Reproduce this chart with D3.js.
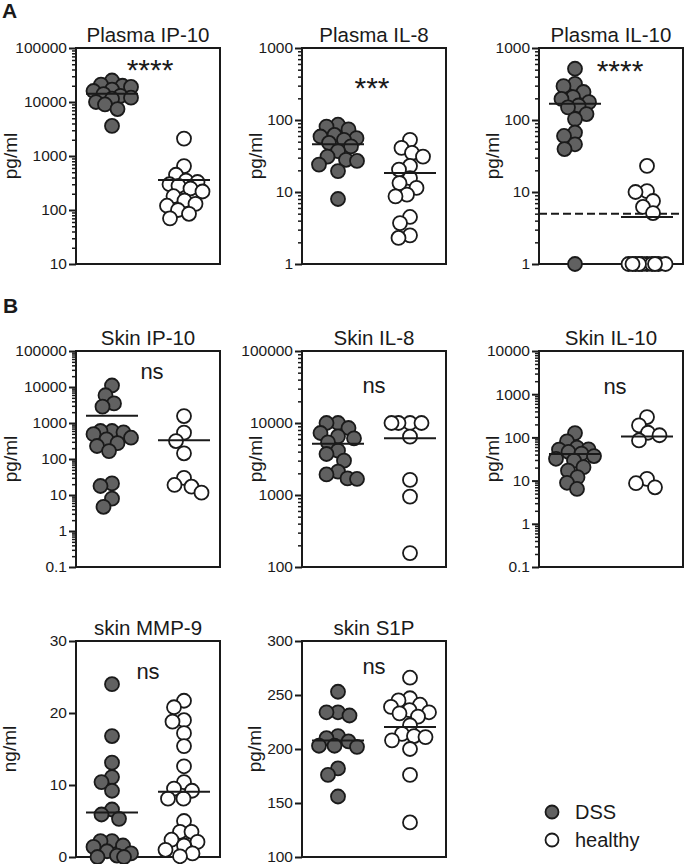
<!DOCTYPE html>
<html>
<head>
<meta charset="utf-8">
<script src="https://cdn.jsdelivr.net/npm/d3@7"></script>
<style>
  body { margin: 0; background: #fff; }
  text { font-family: "Liberation Sans", Arial, sans-serif; fill: #1a1a1a; }
</style>
</head>
<body>
<script>
// groups shown in every panel
const groups = ["DSS", "healthy"];

// values
const plasmaIP10DSS = [25000, 21000, 20000, 19000, 17000, 16000, 14000, 13000, 12000, 11500, 10000, 9000, 7400, 3600];
const plasmaIP10Healthy = [2100, 650, 450, 350, 330, 300, 280, 250, 220, 180, 150, 130, 120, 100, 85, 70];
const plasmaIL8DSS = [86, 81, 74, 62, 59, 56, 53, 48, 43, 37, 31, 28, 27, 24, 19.5, 8];
const plasmaIL8Healthy = [53, 41, 35, 31, 23, 20.5, 15.6, 13.3, 11.4, 9.2, 8.7, 4.5, 3.7, 2.5, 2.3];
const plasmaIL10DSS = [515, 317, 295, 245, 208, 196, 177, 159, 150, 121, 103, 67, 60, 46, 39.5, 1];
const plasmaIL10Healthy = [23, 10.3, 10, 7.5, 6.2, 5.1, 1, 1, 1, 1, 1, 1, 1, 1, 1, 1];
const plasmaIL10Cutoff = 5;
const skinIP10DSS = [11000, 5900, 3500, 2840, 600, 600, 550, 490, 390, 350, 275, 230, 166, 21, 17.8, 7.9, 4.7];
const skinIP10Healthy = [1560, 540, 315, 144, 30, 19, 17, 11.6];
const skinIL8DSS = [10000, 10000, 8520, 7260, 6530, 6130, 5380, 4130, 3710, 3000, 2110, 1930, 1700, 1670];
const skinIL8Healthy = [10000, 10000, 10000, 10000, 6460, 1620, 950, 156];
const skinIL10DSS = [126, 81, 58, 53, 52, 46, 42, 37, 32, 29, 20.5, 17, 12, 8.9, 6.4];
const skinIL10Healthy = [296, 190, 128, 112, 85, 11, 8.7, 7];
const mmp9DSS = [24, 16.8, 13.1, 11.1, 10.4, 9.2, 6.6, 5.9, 5.3, 2.2, 2.2, 1.6, 1.4, 0.8, 0.5, 0.2, 0, 0];
const mmp9Healthy = [21.7, 20.8, 19, 18.8, 17.2, 15.4, 12.6, 10.4, 9.5, 9.2, 8.1, 8.1, 5, 3.5, 3.5, 2.4, 2.1, 1.6, 1, 0.5, 0.1];
const s1pDSS = [253, 234, 234, 231, 212, 210, 207, 203, 203, 202, 182, 176, 156];
const s1pHealthy = [266, 247, 245, 241, 239, 236, 234, 233, 230, 222, 214, 212, 211, 208, 200, 176, 132];

// tick labels
const plasmaIP10Ticks = [10, 100, 1000, 10000, 100000];
const plasmaIL8Ticks = [1, 10, 100, 1000];
const plasmaIL10Ticks = [1, 10, 100, 1000];
const skinIP10Ticks = [0.1, 1, 10, 100, 1000, 10000, 100000];
const skinIL8Ticks = [100, 1000, 10000, 100000];
const skinIL10Ticks = [0.1, 1, 10, 100, 1000, 10000];
const mmp9Ticks = [0, 10, 20, 30];
const s1pTicks = [100, 150, 200, 250, 300];

const titles = ["Plasma IP-10", "Plasma IL-8", "Plasma IL-10", "Skin IP-10", "Skin IL-8", "Skin IL-10", "skin MMP-9", "skin S1P"];
const units = ["pg/ml", "pg/ml", "pg/ml", "pg/ml", "pg/ml", "pg/ml", "ng/ml", "pg/ml"];
const sigLabels = ["****", "***", "****", "ns", "ns", "ns", "ns", "ns"];

// layout
const W = 144, H = 216;
const colX = [76, 302, 539];
const rowY = [48, 351, 641];
const R = 7;

const panels = [
  { dss: plasmaIP10DSS, healthy: plasmaIP10Healthy, ticks: plasmaIP10Ticks, log: true, col: 0, row: 0, labOff: 59, sigY: 32, sigDx: 2 },
  { dss: plasmaIL8DSS, healthy: plasmaIL8Healthy, ticks: plasmaIL8Ticks, log: true, col: 1, row: 0, labOff: 40, sigY: 50, sigDx: -2 },
  { dss: plasmaIL10DSS, healthy: plasmaIL10Healthy, ticks: plasmaIL10Ticks, log: true, col: 2, row: 0, labOff: 40, sigY: 33, sigDx: 9, cutoff: plasmaIL10Cutoff },
  { dss: skinIP10DSS, healthy: skinIP10Healthy, ticks: skinIP10Ticks, log: true, col: 0, row: 1, labOff: 59, sigY: 28, sigDx: 4 },
  { dss: skinIL8DSS, healthy: skinIL8Healthy, ticks: skinIL8Ticks, log: true, col: 1, row: 1, labOff: 40, sigY: 42, sigDx: 0 },
  { dss: skinIL10DSS, healthy: skinIL10Healthy, ticks: skinIL10Ticks, log: true, col: 2, row: 1, labOff: 40, sigY: 43, sigDx: 4 },
  { dss: mmp9DSS, healthy: mmp9Healthy, ticks: mmp9Ticks, log: false, col: 0, row: 2, labOff: 60, sigY: 38, sigDx: 0 },
  { dss: s1pDSS, healthy: s1pHealthy, ticks: s1pTicks, log: false, col: 1, row: 2, labOff: 41, sigY: 33, sigDx: 0 }
];

const svg = d3.select("body").append("svg")
    .attr("width", 685)
    .attr("height", 864);

// beeswarm: nearest free spot to the column center, inside a max spread
function dodge(ys, cx, minDist, maxSpread) {
  const order = d3.range(ys.length).sort((a, b) => ys[a] - ys[b]);
  const placed = [];
  const xs = new Array(ys.length);
  const offs = d3.range(-maxSpread, maxSpread + 0.01, 0.5)
      .sort((a, b) => Math.abs(a) - Math.abs(b));
  order.forEach(i => {
    const yy = ys[i];
    let best = 0, bestD = -1;
    for (const o of offs) {
      let dmin = Infinity;
      placed.forEach(p => {
        dmin = Math.min(dmin, Math.hypot(p.o - o, p.y - yy));
      });
      if (dmin >= minDist) { best = o; bestD = dmin; break; }
      if (dmin > bestD + 0.5) { best = o; bestD = dmin; }
    }
    placed.push({ o: best, y: yy });
    xs[i] = cx + best;
  });
  return xs;
}

function minorTicks(ticks) {
  const out = [];
  for (let i = 0; i < ticks.length - 1; i++) {
    for (let m = 2; m <= 9; m++) out.push(+(m * ticks[i]).toPrecision(3));
  }
  return out;
}

panels.forEach((p, i) => {
  const g = svg.append("g")
      .attr("transform", `translate(${colX[p.col]},${rowY[p.row]})`);

  const y = (p.log ? d3.scaleLog() : d3.scaleLinear())
      .domain(d3.extent(p.ticks))
      .range([H, 0]);
  const x = d3.scalePoint()
      .domain(groups)
      .range([0, W])
      .padding(0.5);

  // minor ticks on log axes
  if (p.log) {
    g.append("g")
        .call(d3.axisLeft(y).tickValues(minorTicks(p.ticks)).tickSize(4).tickFormat(""))
        .call(a => a.select(".domain").remove())
        .selectAll("line").attr("stroke", "#1a1a1a").attr("stroke-width", 1.5);
  }

  // major ticks + labels
  const ax = g.append("g")
      .call(d3.axisLeft(y).tickValues(p.ticks).tickSize(7).tickPadding(2).tickFormat(d => String(d)));
  ax.select(".domain").remove();
  ax.selectAll("line").attr("stroke", "#1a1a1a").attr("stroke-width", 2);
  ax.selectAll("text")
      .style("font-family", "'Liberation Sans', Arial, sans-serif")
      .style("font-size", "15.5px")
      .attr("fill", "#1a1a1a");

  // frame
  g.append("rect")
      .attr("width", W)
      .attr("height", H)
      .attr("fill", "none")
      .attr("stroke", "#1a1a1a")
      .attr("stroke-width", 2);

  // cutoff line
  if (p.cutoff) {
    g.append("line")
        .attr("x1", 0).attr("x2", W)
        .attr("y1", y(p.cutoff)).attr("y2", y(p.cutoff))
        .attr("stroke", "#1a1a1a")
        .attr("stroke-width", 2)
        .attr("stroke-dasharray", "8,4");
  }

  // points
  const sets = [p.dss, p.healthy];
  sets.forEach((vals, gi) => {
    const ys = vals.map(v => y(v));
    const xs = dodge(ys, x(groups[gi]), 11.5, 19);
    g.append("g").selectAll("circle")
      .data(vals)
      .join("circle")
        .attr("cx", (d, j) => xs[j])
        .attr("cy", (d, j) => ys[j])
        .attr("r", R)
        .attr("fill", gi === 0 ? "#616161" : "#fff")
        .attr("stroke", "#1a1a1a")
        .attr("stroke-width", 1.8);

    // mean line
    const m = d3.mean(vals);
    g.append("line")
        .attr("x1", x(groups[gi]) - 26)
        .attr("x2", x(groups[gi]) + 26)
        .attr("y1", y(m)).attr("y2", y(m))
        .attr("stroke", "#1a1a1a")
        .attr("stroke-width", 2);
  });

  // title
  g.append("text")
      .attr("x", W / 2)
      .attr("y", -6)
      .attr("text-anchor", "middle")
      .style("font-size", "20.5px")
      .text(titles[i]);

  // y label
  g.append("text")
      .attr("transform", `translate(${-p.labOff},${H / 2}) rotate(-90)`)
      .attr("text-anchor", "middle")
      .style("font-size", "19px")
      .text(units[i]);

  // significance
  const isStar = sigLabels[i].startsWith("*");
  g.append("text")
      .attr("x", W / 2 + p.sigDx)
      .attr("y", p.sigY)
      .attr("text-anchor", "middle")
      .style("font-size", isStar ? "30px" : "22px")
      .text(sigLabels[i]);
});

// panel letters
svg.append("text").attr("x", 2).attr("y", 18)
    .style("font-size", "21px").style("font-weight", "bold").text("A");
svg.append("text").attr("x", 3).attr("y", 313)
    .style("font-size", "21px").style("font-weight", "bold").text("B");

// legend
const legend = svg.append("g").attr("transform", "translate(552,812)");
groups.forEach((grp, k) => {
  legend.append("circle")
      .attr("cx", 0).attr("cy", k * 28)
      .attr("r", 6.5)
      .attr("fill", k === 0 ? "#616161" : "#fff")
      .attr("stroke", "#1a1a1a")
      .attr("stroke-width", 1.8);
  legend.append("text")
      .attr("x", 23).attr("y", k * 28 + 7)
      .style("font-size", "20px")
      .text(grp);
});
</script>
</body>
</html>
